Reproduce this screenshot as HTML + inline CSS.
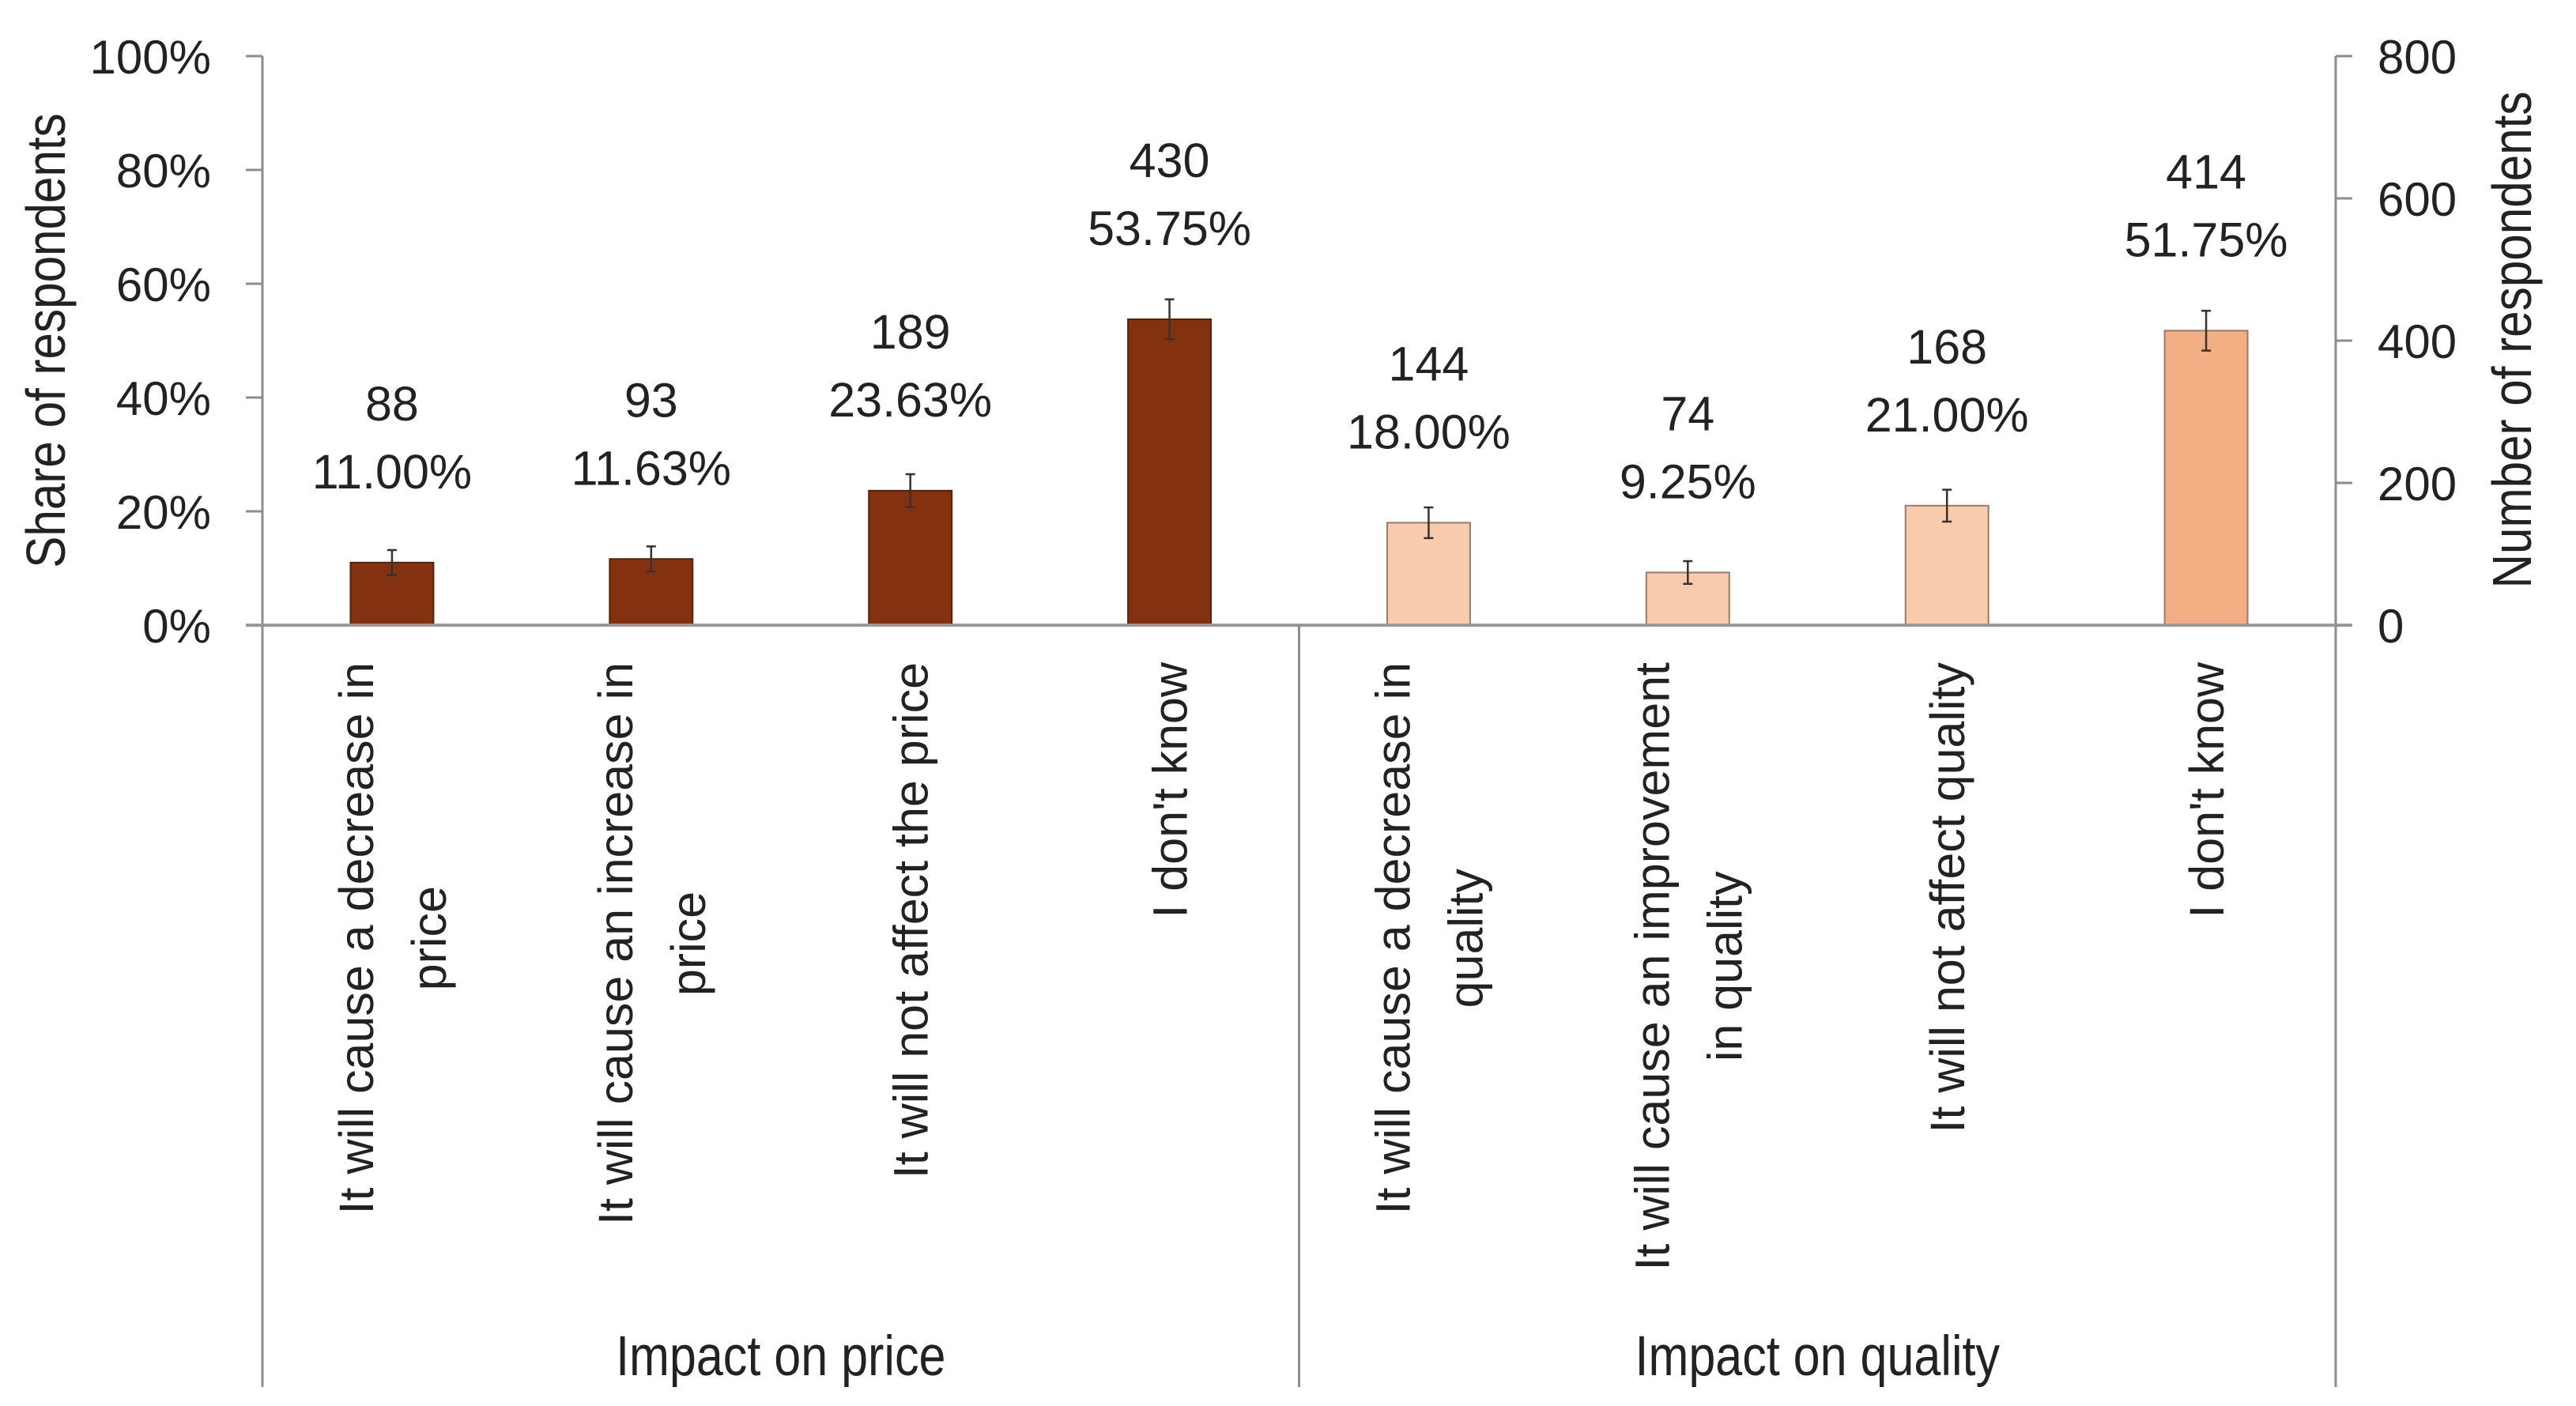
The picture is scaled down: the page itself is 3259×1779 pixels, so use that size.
<!DOCTYPE html>
<html><head><meta charset="utf-8">
<style>
html,body{margin:0;padding:0;background:#fff;}
svg{display:block;font-family:"Liberation Sans",sans-serif;}
</style></head>
<body>
<svg id="chart" width="3259" height="1779" viewBox="0 0 3259 1779" xmlns="http://www.w3.org/2000/svg">
<rect width="3259" height="1779" fill="#fff"/>
<g id="plot"></g>
</svg>
<script>
const categories = [
  ["It will cause a decrease in","price"],
  ["It will cause an increase in","price"],
  ["It will not affect the price"],
  ["I don't know"],
  ["It will cause a decrease in","quality"],
  ["It will cause an improvement","in quality"],
  ["It will not affect quality"],
  ["I don't know"]
];
const groups = ["Impact on price","Impact on quality"];
const counts = [88, 93, 189, 430, 144, 74, 168, 414];
const shares = [11.00, 11.63, 23.63, 53.75, 18.00, 9.25, 21.00, 51.75];
const errors = [2.2, 2.2, 2.9, 3.5, 2.7, 2.0, 2.8, 3.5];
const leftTicks = [0, 20, 40, 60, 80, 100];
const rightTicks = [0, 200, 400, 600, 800];
const colors = ["#843110","#843110","#843110","#843110","#F8CBAD","#F8CBAD","#F8CBAD","#F4AE84"];

const NS = "http://www.w3.org/2000/svg";
const g = document.getElementById("plot");
const X0 = 332, X1 = 2955, Y0 = 791, YT = 71, YB = 1755;
const band = (X1 - X0) / categories.length;
const xc = i => X0 + band * (i + 0.5);
const yS = v => Y0 - (v / 100) * (Y0 - YT);
const yN = v => Y0 - (v / 800) * (Y0 - YT);
function el(tag, attrs, parent) {
  const e = document.createElementNS(NS, tag);
  for (const k in attrs) e.setAttribute(k, attrs[k]);
  (parent || g).appendChild(e);
  return e;
}
const axisColor = "#8c8c8c";

const la = el("line", {x1:X0, y1:YT, x2:X0, y2:Y0, stroke:axisColor, "stroke-width":3});


leftTicks.forEach(t => {
  const y = yS(t);
  const tk = el("line", {x1:X0-21, y1:y, x2:X0, y2:y, stroke:axisColor, "stroke-width":3});
  
  
  const tx = el("text", {x:267, y:y+22, "text-anchor":"end", "font-size":60, fill:"#222"});
  tx.textContent = t + "%";
  
  
});
const ra = el("line", {x1:X1, y1:YT, x2:X1, y2:Y0, stroke:axisColor, "stroke-width":3});


rightTicks.forEach(t => {
  const y = yN(t);
  const tk = el("line", {x1:X1, y1:y, x2:X1+21, y2:y, stroke:axisColor, "stroke-width":3});
  
  
  const tx = el("text", {x:3008, y:y+22, "text-anchor":"start", "font-size":60, fill:"#222"});
  tx.textContent = t;
  
  
});
const lt = el("text", {transform:"translate(82,431) rotate(-90) scale(0.86,1)", "text-anchor":"middle", "font-size":70, fill:"#222"});
lt.textContent = "Share of respondents";


const rt = el("text", {transform:"translate(3202,430) rotate(-90) scale(0.86,1)", "text-anchor":"middle", "font-size":70, fill:"#222"});
rt.textContent = "Number of respondents";



const bw = band * 0.32;
shares.forEach((v, i) => {
  const x = xc(i), y = yS(v);
  const r = el("rect", {x:x-bw/2, y:y, width:bw, height:Y0-y, fill:colors[i], stroke:i<4?"#5a2008":"#9a7a68", "stroke-width":2});
  
  
  const e1 = yS(v + errors[i]), e2 = yS(v - errors[i]);
  const eb = el("path", {d:`M${x},${e1}V${e2}M${x-6},${e1}H${x+6}M${x-6},${e2}H${x+6}`, stroke:"#333", "stroke-width":2.5, fill:"none"});
  
  
  const t1 = el("text", {x:x, y:y-180, "text-anchor":"middle", "font-size":61, fill:"#222"});
  t1.textContent = counts[i];
  
  
  const t2 = el("text", {x:x, y:y-94, "text-anchor":"middle", "font-size":61, fill:"#222"});
  t2.textContent = shares[i].toFixed(2) + "%";
  
  
});
const bl = el("line", {x1:X0-21, y1:Y0, x2:X1+21, y2:Y0, stroke:"#999", "stroke-width":4});


[0, 4, 8].forEach(k => {
  const x = X0 + band * k;
  const s = el("line", {x1:x, y1:Y0, x2:x, y2:YB, stroke:axisColor, "stroke-width":3});
  
  
});
const LS = 92, FS = 61, TOP = 838;
categories.forEach((lines, i) => {
  const x = xc(i) - (lines.length - 1) * LS / 2;
  const grp = el("g", {});
  
  
  const texts = lines.map((ln, j) => {
    const t = el("text", {"font-size":FS, fill:"#222", "text-anchor":"middle"}, grp);
    t.textContent = ln;
    return t;
  });
  const maxLen = Math.max(...texts.map(t => t.getComputedTextLength()));
  texts.forEach((t, j) => {
    const cx = x + j * LS + 22;
    t.setAttribute("transform", `translate(${cx},${TOP + maxLen/2}) rotate(-90)`);
  });
});
groups.forEach((name, k) => {
  const cx = X0 + band * (k * 4 + 2);
  const t = el("text", {transform:`translate(${cx},1740) scale(0.86,1)`, "text-anchor":"middle", "font-size":71, fill:"#222"});
  t.textContent = name;
  
  
});
</script>
</body></html>
